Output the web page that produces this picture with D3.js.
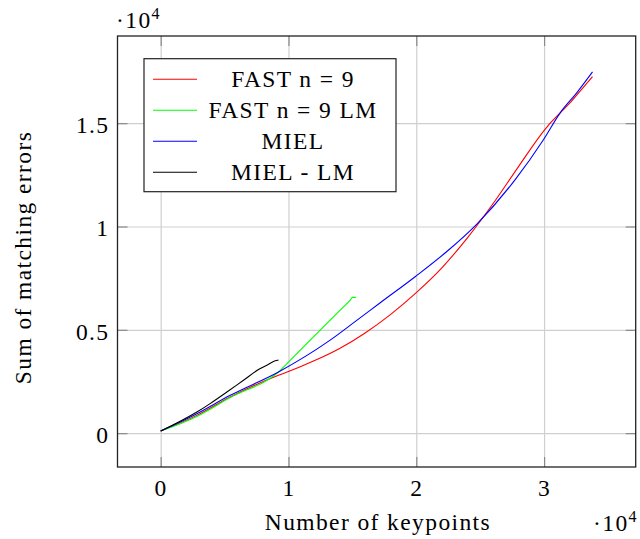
<!DOCTYPE html>
<html>
<head>
<meta charset="utf-8">
<script src="https://cdn.jsdelivr.net/npm/d3@7"></script>
<style>
  body { margin: 0; background: #fff; }
  svg { display: block; }
  text { font-family: "Liberation Serif", serif; fill: #000; letter-spacing: 1.4px; }
</style>
</head>
<body>
<svg id="chart" width="640" height="539"></svg>
<script>
// data (keypoints, sum of matching errors)
const fastX = [0, 2830, 5440, 9220, 10000, 12000, 14000, 16000, 18000, 20000, 22000, 24000, 26000, 28000, 29950, 30480, 31260, 32040, 32820, 33790];
const fastY = [100, 860, 1750, 2800, 2980, 3500, 4100, 4850, 5750, 6800, 8000, 9450, 11100, 12900, 14600, 15000, 15500, 15990, 16550, 17250];

const fastLmX = [0, 2830, 5440, 9220, 10500, 12480, 13910, 14830, 15010, 15270];
const fastLmY = [100, 810, 1720, 2960, 3750, 4990, 5870, 6440, 6570, 6570];

const mielX = [0, 2830, 5440, 9220, 13260, 15260, 17180, 19910, 22390, 24740, 27740, 29950, 31260, 32570, 33790];
const mielY = [100, 940, 1830, 2960, 4500, 5420, 6310, 7570, 8790, 10120, 12270, 14200, 15500, 16480, 17480];

const mielLmX = [0, 2830, 3870, 5180, 6480, 7790, 8310, 8960, 9220];
const mielLmY = [100, 1020, 1430, 1990, 2560, 3130, 3290, 3500, 3540];

const seriesNames = ['FAST n = 9', 'FAST n = 9 LM', 'MIEL', 'MIEL - LM'];
const seriesColors = ['#ff0000', '#00ff00', '#0000ff', '#000000'];

const xTicks = [0, 10000, 20000, 30000];
const yTicks = [0, 5000, 10000, 15000];

const margin = { top: 36, right: 4.3, bottom: 72, left: 117.5 };
const width = 640 - margin.left - margin.right;
const height = 539 - margin.top - margin.bottom;
const fontSize = 23.5;

const series = [
  [fastX, fastY],
  [fastLmX, fastLmY],
  [mielX, mielY],
  [mielLmX, mielLmY],
].map(([xs, ys], i) => ({
  name: seriesNames[i],
  color: seriesColors[i],
  points: xs.map((x, j) => [x, ys[j]]),
}));

// pgfplots style: enlarge limits by 10% of the data range
const allX = series.flatMap(s => s.points.map(p => p[0]));
const allY = series.flatMap(s => s.points.map(p => p[1]));
const [x0, x1] = d3.extent(allX);
const [y0, y1] = d3.extent(allY);
const xPad = (x1 - x0) * 0.1;
const yPad = (y1 - y0) * 0.1;

const xScale = d3.scaleLinear().domain([x0 - xPad, x1 + xPad]).range([0, width]);
const yScale = d3.scaleLinear().domain([y0 - yPad, y1 + yPad]).range([height, 0]);

const svg = d3.select('#chart');
const g = svg.append('g').attr('transform', `translate(${margin.left}, ${margin.top})`);

// grid
g.append('g')
  .attr('class', 'x grid')
  .attr('transform', `translate(0, ${height})`)
  .call(d3.axisBottom(xScale).tickValues(xTicks).tickSize(-height).tickFormat(''))
  .call(a => a.select('.domain').remove())
  .selectAll('line')
  .attr('stroke', '#cfcfcf')
  .attr('stroke-width', 1.2);

g.append('g')
  .attr('class', 'y grid')
  .call(d3.axisLeft(yScale).tickValues(yTicks).tickSize(-width).tickFormat(''))
  .call(a => a.select('.domain').remove())
  .selectAll('line')
  .attr('stroke', '#cfcfcf')
  .attr('stroke-width', 1.2);

// tick marks on all four sides, pointing inward
const tickLen = 10;
[
  [d3.axisBottom(xScale).tickValues(xTicks).tickSize(-tickLen), `translate(0, ${height})`],
  [d3.axisTop(xScale).tickValues(xTicks).tickSize(-tickLen), 'translate(0, 0)'],
  [d3.axisLeft(yScale).tickValues(yTicks).tickSize(-tickLen), 'translate(0, 0)'],
  [d3.axisRight(yScale).tickValues(yTicks).tickSize(-tickLen), `translate(${width}, 0)`],
].forEach(([axis, tr]) => {
  g.append('g')
    .attr('transform', tr)
    .call(axis.tickFormat(''))
    .call(a => a.select('.domain').remove())
    .selectAll('line')
    .attr('stroke', '#8a8a8a')
    .attr('stroke-width', 1.2);
});

// tick labels
const fmt = d => String(d / 10000);

g.append('g')
  .attr('class', 'x axis')
  .attr('transform', `translate(0, ${height})`)
  .call(d3.axisBottom(xScale).tickValues(xTicks).tickSize(0).tickFormat(fmt))
  .call(a => a.select('.domain').remove())
  .selectAll('text')
  .attr('y', 29)
  .attr('dy', null)
  .attr('font-size', fontSize)
  .attr('font-family', null)
  .attr('fill', null);

g.append('g')
  .attr('class', 'y axis')
  .call(d3.axisLeft(yScale).tickValues(yTicks).tickSize(0).tickPadding(8).tickFormat(fmt))
  .call(a => a.select('.domain').remove())
  .selectAll('text')
  .attr('dy', '0.4em')
  .attr('font-size', fontSize)
  .attr('font-family', null)
  .attr('fill', null);

// lines
const line = d3.line()
  .x(d => xScale(d[0]))
  .y(d => yScale(d[1]))
  .curve(d3.curveMonotoneX);

g.append('g')
  .selectAll('path')
  .data(series)
  .join('path')
  .attr('fill', 'none')
  .attr('stroke', d => d.color)
  .attr('stroke-width', 1.1)
  .attr('d', d => line(d.points));

// frame
g.append('rect')
  .attr('width', width)
  .attr('height', height)
  .attr('fill', 'none')
  .attr('stroke', '#222')
  .attr('stroke-width', 1.3);

// exponent markers
function exponent(sel, x, y, anchor) {
  const t = sel.append('text')
    .attr('x', x)
    .attr('y', y)
    .attr('text-anchor', anchor)
    .attr('font-size', fontSize);
  t.append('tspan').text('·10');
  t.append('tspan').attr('dy', -9).attr('font-size', 16).text('4');
}
exponent(svg, 116, 28, 'start');
exponent(svg, 638, 531, 'end');

// axis titles
svg.append('text')
  .attr('x', margin.left + xScale(17000))
  .attr('y', 530)
  .attr('text-anchor', 'middle')
  .attr('font-size', fontSize)
  .text('Number of keypoints');

svg.append('text')
  .attr('transform', `translate(31, ${margin.top + yScale(8500)}) rotate(-90)`)
  .attr('text-anchor', 'middle')
  .attr('font-size', fontSize)
  .text('Sum of matching errors');

// legend
const legend = svg.append('g').attr('transform', 'translate(144, 58.7)');
legend.append('rect')
  .attr('width', 252)
  .attr('height', 133)
  .attr('fill', '#fff')
  .attr('stroke', '#222')
  .attr('stroke-width', 1.2);

const rows = legend.selectAll('g.row')
  .data(series)
  .join('g')
  .attr('class', 'row')
  .attr('transform', (d, i) => `translate(0, ${20.5 + i * 31})`);

rows.append('line')
  .attr('x1', 9)
  .attr('x2', 53)
  .attr('stroke', d => d.color)
  .attr('stroke-width', 1.1);

rows.append('text')
  .attr('x', 149)
  .attr('y', 7.5)
  .attr('text-anchor', 'middle')
  .attr('font-size', fontSize)
  .text(d => d.name);
</script>
</body>
</html>
